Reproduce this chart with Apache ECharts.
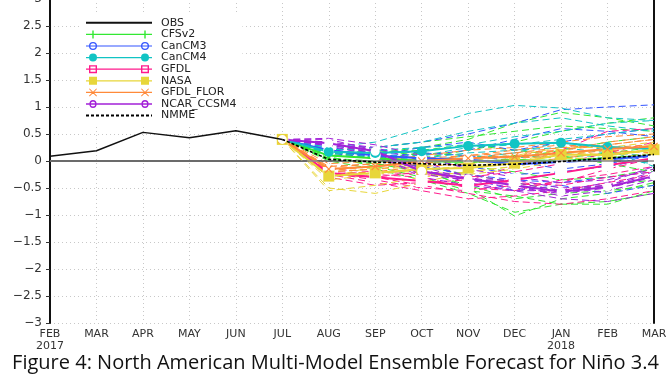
<!DOCTYPE html>
<html>
<head>
<meta charset="utf-8">
<script src="https://cdn.jsdelivr.net/npm/echarts@6/dist/echarts.min.js"></script>
<style>html,body{margin:0;padding:0;background:#fff}#c{width:671px;height:378px}</style>
</head>
<body>
<div id="c"></div>
<script>
// ---- data ----
const months = ['FEB\n2017','MAR','APR','MAY','JUN','JUL','AUG','SEP','OCT','NOV','DEC','JAN\n2018','FEB','MAR'];
const yTicks = [-3,-2.5,-2,-1.5,-1,-0.5,0,0.5,1,1.5,2,2.5,3];
const obs = [0.09,0.19,0.53,0.43,0.56,0.40];
const forecastStart = 5; // JUL
// ensemble means (JUL..MAR)
const cfsv2Mean   = [0.40,0.10,0.05,0.00,-0.02,0.02,0.00,0.05,0.10];
const cancm3Mean  = [0.40,0.20,0.10,0.05,0.03,-0.06,-0.02,0.03,0.10];
const cancm4Mean  = [0.40,0.17,0.15,0.18,0.28,0.32,0.34,0.26,0.22];
const gfdlMean    = [0.40,-0.22,-0.30,-0.37,-0.46,-0.35,-0.22,-0.08,0.05];
const nasaMean    = [0.40,-0.28,-0.22,-0.15,-0.13,-0.04,0.12,0.11,0.21];
const florMean    = [0.40,-0.15,-0.10,0.00,0.05,0.08,0.15,0.22,0.27];
const ncarMean    = [0.40,0.33,0.18,-0.19,-0.33,-0.45,-0.57,-0.48,-0.28];
const nmmeMean    = [0.40,0.03,-0.02,-0.05,-0.08,-0.06,-0.01,0.05,0.12];
// ensemble members (JUL..MAR)
const cfsv2Members = [
  [0.4,0.15,0.10,0.05,0.20,0.35,0.55,0.70,0.80],
  [0.4,0.05,-0.05,-0.20,-0.45,-0.70,-0.60,-0.55,-0.45],
  [0.4,0.20,0.25,0.35,0.45,0.55,0.65,0.60,0.55],
  [0.4,0.00,-0.15,-0.35,-0.60,-0.95,-0.80,-0.75,-0.60],
  [0.4,0.10,0.05,0.15,0.10,0.05,0.20,0.35,0.45],
  [0.4,0.12,0.20,0.10,-0.10,-0.20,-0.35,-0.30,-0.15],
  [0.4,0.08,-0.10,-0.30,-0.55,-0.65,-0.80,-0.80,-0.55],
  [0.4,0.18,0.15,0.25,0.40,0.70,0.90,0.80,0.65],
  [0.4,0.05,0.00,-0.10,-0.25,-0.40,-0.55,-0.45,-0.35],
  [0.4,0.15,0.10,0.00,0.05,0.10,0.05,0.15,0.25],
  [0.4,0.02,-0.05,-0.15,-0.50,-1.02,-0.70,-0.60,-0.40],
  [0.4,0.10,0.15,0.20,0.30,0.20,0.10,-0.05,-0.20]
];
const cancm3Members = [
  [0.4,0.30,0.25,0.35,0.50,0.70,0.95,1.00,1.04],
  [0.4,0.25,0.15,0.10,0.20,0.40,0.60,0.55,0.45],
  [0.4,0.20,0.05,-0.10,-0.25,-0.35,-0.40,-0.30,-0.20],
  [0.4,0.28,0.20,0.15,0.10,0.00,-0.15,-0.05,0.10],
  [0.4,0.15,0.05,-0.05,-0.30,-0.55,-0.45,-0.60,-0.45],
  [0.4,0.22,0.10,0.25,0.35,0.20,0.35,0.50,0.60],
  [0.4,0.18,0.08,0.00,-0.10,-0.25,-0.20,-0.10,0.05]
];
const cancm4Members = [
  [0.4,0.25,0.35,0.60,0.88,1.03,0.98,0.80,0.75],
  [0.4,0.20,0.25,0.35,0.55,0.70,0.80,0.65,0.55],
  [0.4,0.15,0.10,0.10,0.25,0.30,0.40,0.50,0.60],
  [0.4,0.18,0.12,0.05,0.15,0.20,0.25,0.15,0.10],
  [0.4,0.12,0.05,0.00,0.10,0.05,0.15,0.05,-0.05],
  [0.4,0.22,0.20,0.25,0.30,0.45,0.55,0.70,0.75],
  [0.4,0.10,0.08,0.02,0.05,0.15,0.35,0.20,-0.10]
];
const gfdlMembers = [
  [0.4,-0.15,-0.20,-0.25,-0.30,-0.20,-0.05,0.15,0.35],
  [0.4,-0.25,-0.40,-0.55,-0.70,-0.65,-0.55,-0.40,-0.25],
  [0.4,-0.20,-0.30,-0.45,-0.60,-0.75,-0.80,-0.70,-0.55],
  [0.4,-0.30,-0.45,-0.40,-0.35,-0.10,0.20,0.55,0.60],
  [0.4,-0.18,-0.25,-0.30,-0.50,-0.55,-0.35,-0.25,-0.10],
  [0.4,-0.22,-0.35,-0.50,-0.55,-0.45,-0.40,-0.15,0.05],
  [0.4,-0.25,-0.30,-0.20,-0.35,-0.40,-0.45,-0.30,-0.20]
];
const nasaMembers = [
  [0.4,-0.55,-0.45,-0.30,-0.20,-0.10,0.05,0.05,0.15],
  [0.4,-0.35,-0.25,-0.15,-0.10,0.00,0.15,0.20,0.30],
  [0.4,-0.20,-0.15,-0.10,-0.05,0.05,0.20,0.10,0.20],
  [0.4,-0.25,-0.20,-0.20,-0.25,-0.15,0.00,0.05,0.25],
  [0.4,-0.30,-0.10,-0.05,0.00,0.10,0.25,0.25,0.35],
  [0.4,-0.50,-0.60,-0.40,-0.20,-0.10,0.05,0.05,0.10]
];
const florMembers = [
  [0.4,-0.10,-0.05,0.05,0.10,0.15,0.25,0.30,0.40],
  [0.4,-0.20,-0.15,-0.05,0.05,0.10,0.20,0.35,0.45],
  [0.4,-0.15,-0.10,0.00,0.10,0.20,0.30,0.25,0.30],
  [0.4,-0.12,-0.05,0.05,0.00,-0.05,0.05,0.15,0.20],
  [0.4,-0.25,-0.20,-0.10,-0.05,0.05,0.10,0.20,0.15],
  [0.4,-0.18,-0.10,-0.05,0.05,0.15,0.20,0.30,0.40],
  [0.4,-0.05,0.00,0.10,0.20,0.25,0.35,0.45,0.50]
];
const ncarMembers = [
  [0.4,0.35,0.25,0.00,-0.30,-0.45,-0.65,-0.55,-0.35],
  [0.4,0.40,0.20,-0.15,-0.40,-0.55,-0.70,-0.75,-0.60],
  [0.4,0.30,0.15,-0.20,-0.25,-0.40,-0.55,-0.45,-0.20],
  [0.4,0.42,0.30,0.10,-0.15,-0.30,-0.40,-0.35,-0.15],
  [0.4,0.28,0.10,-0.25,-0.35,-0.50,-0.60,-0.50,-0.30],
  [0.4,0.35,0.12,-0.30,-0.45,-0.55,-0.55,-0.40,-0.10],
  [0.4,0.33,0.20,-0.10,-0.35,-0.35,-0.50,-0.45,-0.25]
];
const titleText = 'Figure 4: North American Multi-Model Ensemble Forecast for Niño 3.4';

// ---- legend icon shapes (style only) ----
const LW = 66, LC = [7, 59];
const lineRect = 'M0,3.4 L' + LW + ',3.4 L' + LW + ',4.6 L0,4.6 Z ';
function ring(cx, r1, r2) {
  return 'M' + (cx - r1) + ',4 A' + r1 + ',' + r1 + ' 0 1 1 ' + (cx + r1) + ',4 A' + r1 + ',' + r1 + ' 0 1 1 ' + (cx - r1) + ',4 Z ' +
    (r2 ? 'M' + (cx - r2) + ',4 A' + r2 + ',' + r2 + ' 0 1 0 ' + (cx + r2) + ',4 A' + r2 + ',' + r2 + ' 0 1 0 ' + (cx - r2) + ',4 Z ' : '');
}
function square(cx, hole) {
  let s = 'M' + (cx - 4) + ',0 L' + (cx + 4) + ',0 L' + (cx + 4) + ',8 L' + (cx - 4) + ',8 Z ';
  if (hole) s += 'M' + (cx - 2.6) + ',1.4 L' + (cx - 2.6) + ',6.6 L' + (cx + 2.6) + ',6.6 L' + (cx + 2.6) + ',1.4 Z ';
  return s;
}
function bar(cx) { return 'M' + (cx - 0.7) + ',0 L' + (cx + 0.7) + ',0 L' + (cx + 0.7) + ',8 L' + (cx - 0.7) + ',8 Z '; }
function cross(cx) {
  return 'M' + (cx - 4) + ',0.7 L' + (cx - 3.3) + ',0 L' + (cx + 4) + ',7.3 L' + (cx + 3.3) + ',8 Z ' +
         'M' + (cx + 3.3) + ',0 L' + (cx + 4) + ',0.7 L' + (cx - 3.3) + ',8 L' + (cx - 4) + ',7.3 Z ';
}
const legendIcon = f => 'path://' + lineRect + LC.map(f).join('');

// ---- build ----
const pad = arr => Array(forecastStart).fill(null).concat(arr);
const plusPath = 'path://M4.3,0 L5.7,0 L5.7,10 L4.3,10 Z';
const xPath = 'path://M0,1 L1,0 L5,4 L9,0 L10,1 L6,5 L10,9 L9,10 L5,6 L1,10 L0,9 L4,5 Z';
const models = [
  {name:'CFSv2', color:'#33e833', mean:cfsv2Mean, members:cfsv2Members, symbol:plusPath, size:[3,10], empty:false, icon:legendIcon(bar)},
  {name:'CanCM3', color:'#3355ff', mean:cancm3Mean, members:cancm3Members, symbol:'emptyCircle', size:9, empty:true, icon:legendIcon(c => ring(c, 4, 2.7))},
  {name:'CanCM4', color:'#11c4c4', mean:cancm4Mean, members:cancm4Members, symbol:'circle', size:10, empty:false, icon:legendIcon(c => ring(c, 4))},
  {name:'GFDL', color:'#ff1a8c', mean:gfdlMean, members:gfdlMembers, symbol:'emptyRect', size:10, empty:true, icon:legendIcon(c => square(c, true))},
  {name:'NASA', color:'#e8d63a', mean:nasaMean, members:nasaMembers, symbol:'rect', size:11, empty:false, icon:legendIcon(c => square(c, false))},
  {name:'GFDL_FLOR', color:'#ff8a3a', mean:florMean, members:florMembers, symbol:xPath, size:8, empty:false, icon:legendIcon(cross)},
  {name:'NCAR_CCSM4', color:'#a322d8', mean:ncarMean, members:ncarMembers, symbol:'emptyCircle', size:7, empty:true, icon:legendIcon(c => ring(c, 3.6, 2.3))}
];
const series = [];
models.forEach(m => {
  m.members.forEach((arr, i) => {
    series.push({
      name: m.name + '_m' + i, type:'line', data: pad(arr), symbol:'none', silent:true,
      lineStyle:{color:m.color, width:1, type:[7,4]}, z:2, animation:false
    });
  });
});
models.forEach(m => {
  series.push({
    name:m.name, type:'line', data:pad(m.mean), symbol:m.symbol, symbolSize:m.size, showAllSymbol:true,
    lineStyle:{color:m.color, width:2}, itemStyle:{color:m.empty ? '#fff' : m.color, borderColor:m.color, borderWidth:m.empty?2:0},
    z:4, animation:false
  });
});
series.unshift({
  name:'OBS', type:'line', data:obs, symbol:'none', lineStyle:{color:'#111', width:1.5}, itemStyle:{color:'#111'}, z:5, animation:false,
  markLine:{silent:true, symbol:'none', label:{show:false}, lineStyle:{color:'#8a8a8a', type:'solid', width:1.6}, data:[{yAxis:0}], animation:false}
});
series.push({
  name:'NMME', type:'line', data:pad(nmmeMean), symbol:'none', lineStyle:{color:'#000', width:1.6, type:[3,2]}, itemStyle:{color:'#000'}, z:6, animation:false
});

const legendData = [{name:'OBS', itemStyle:{opacity:0}}].concat(models.map(m => ({
  name:m.name, icon:m.icon, itemStyle:{color:m.color, borderWidth:0}
}))).concat([{name:'NMME', itemStyle:{opacity:0}}]);

const chart = echarts.init(document.getElementById('c'), null, {renderer:'canvas'});
chart.setOption({
  backgroundColor:'#fff',
  animation:false,
  title:{text:titleText, left:'center', bottom:0, textStyle:{fontFamily:'Open Sans', fontSize:20, fontWeight:'normal', color:'#111'}},
  legend:{
    data:legendData,
    orient:'vertical', left:81, top:14, itemWidth:LW, itemHeight:8, itemGap:0, symbolKeepAspect:false,
    backgroundColor:'#fff', padding:[3,6,3,4],
    textStyle:{fontFamily:'DejaVu Sans', fontSize:11, lineHeight:11.6, color:'#222', padding:[0,0,0,4]},
    selectedMode:false
  },
  grid:{left:50, right:17, top:-1, bottom:55, containLabel:false, outerBoundsMode:'none'},
  xAxis:{
    type:'category', data:months, boundaryGap:false,
    axisLine:{lineStyle:{color:'#111', width:2}}, axisTick:{show:false},
    axisLabel:{fontFamily:'DejaVu Sans', fontSize:11, color:'#333', lineHeight:12, margin:5, interval:0},
    splitLine:{show:true, lineStyle:{color:'#c8c8c8', type:[1,3], width:1}}
  },
  yAxis:[{
    type:'value', min:yTicks[0], max:yTicks[yTicks.length-1], interval:0.5,
    axisLine:{show:true, lineStyle:{color:'#111', width:2}},
    axisTick:{show:true, length:4, lineStyle:{color:'#333'}},
    axisLabel:{fontFamily:'DejaVu Sans', fontSize:12, color:'#333', margin:8, formatter:v => String(v).replace('-', '\u2212')},
    splitLine:{show:true, lineStyle:{color:'#c8c8c8', type:[1,3], width:1}}
  },{
    type:'value', position:'right', min:-3, max:3, interval:0.5,
    axisLine:{show:true, lineStyle:{color:'#111', width:2}}, axisTick:{show:false}, axisLabel:{show:false}, splitLine:{show:false}
  }],
  series:series
});
</script>
</body>
</html>
